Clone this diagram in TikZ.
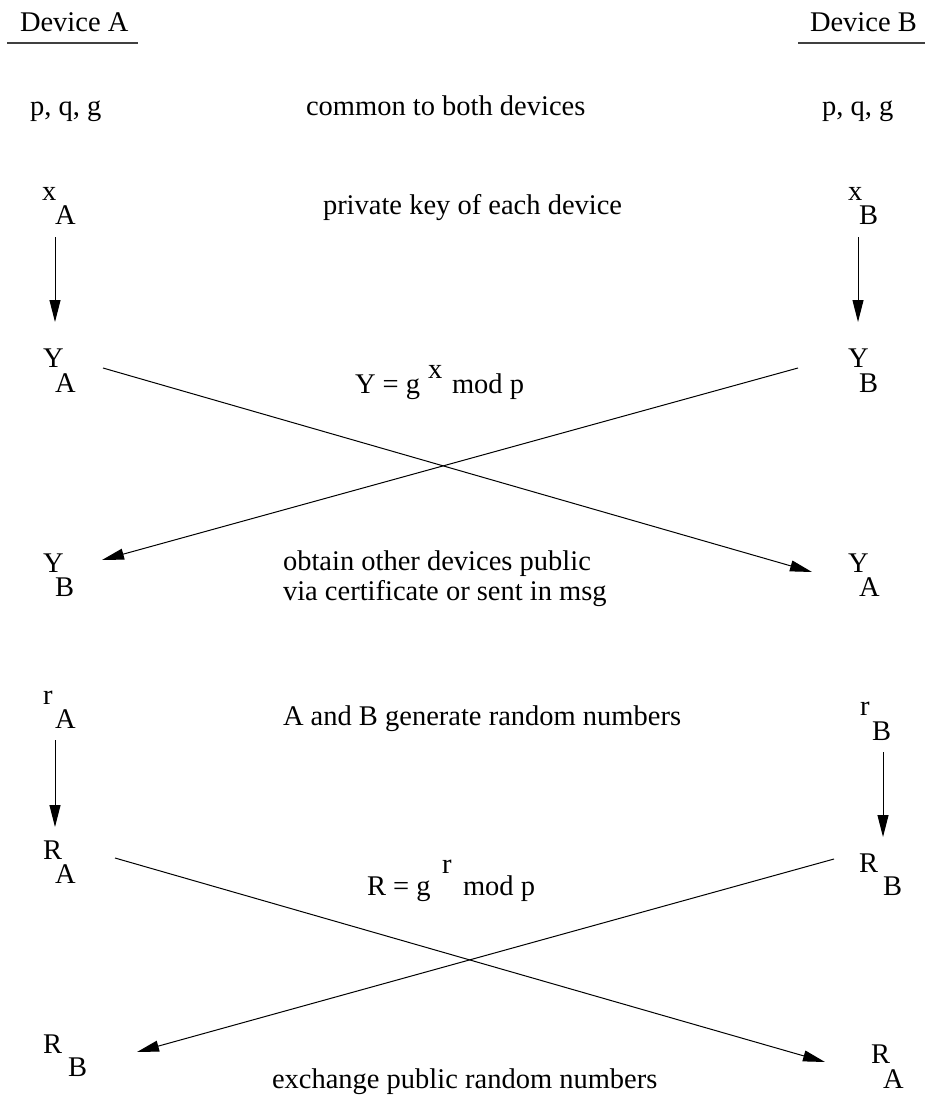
\documentclass[tikz,border=0pt]{standalone}
\usepackage{fontspec}
\setmainfont{Liberation Serif}
\usetikzlibrary{arrows.meta}
\newcommand\subpair[4]{\makebox[0pt][l]{#1}\hspace{#3}\raisebox{-#4}{#2}}
\tikzset{
  txt/.style={inner sep=0pt, outer sep=0pt, anchor=base west, font=\fontsize{28.5}{34}\selectfont},
  conn/.style={line width=1pt, -{Triangle[length=22pt,width=11pt]}},
  rule/.style={line width=1.2pt, draw=black!75}
}
\begin{document}
\begin{tikzpicture}[x=1pt,y=-1pt]
\useasboundingbox (0,0) rectangle (925,1097);
% headers
\node[txt] (devA) at (20,32) {Device A};
\node[txt] (devB) at (810,32) {Device B};
\coordinate (ulA1) at (7,43); \coordinate (ulA2) at (138,43);
\coordinate (ulB1) at (798,43); \coordinate (ulB2) at (925,43);
\draw[rule] (ulA1) -- (ulA2);
\draw[rule] (ulB1) -- (ulB2);
% row 1
\node[txt] (pqgA) at (30,116) {p, q, g};
\node[txt] (pqgB) at (822,116) {p, q, g};
\node[txt] (common) at (306,116) {common to both devices};
% row 2
\node[txt] (xA) at (42,200) {\subpair{x}{A}{13pt}{24pt}};
\node[txt] (xB) at (848,200) {\subpair{x}{B}{11pt}{24pt}};
\node[txt] (priv) at (323,214) {private key of each device};
% row 3
\node[txt] (YA) at (43,367) {\subpair{Y}{A}{12pt}{25pt}};
\node[txt] (YB) at (848,367) {\subpair{Y}{B}{11pt}{25pt}};
\node[txt] (Yeq) at (355,393) {\makebox[0pt][l]{Y = g}\hspace{73pt}\makebox[0pt][l]{\raisebox{15pt}{x}}\hspace{24pt}mod p};
% row 4
\node[txt] (YB2) at (43,572) {\subpair{Y}{B}{12pt}{24pt}};
\node[txt] (YA2) at (848,572) {\subpair{Y}{A}{11pt}{24pt}};
\node[txt] (obtain) at (283,570) {obtain other devices public};
\node[txt] (via) at (283,600) {via certificate or sent in msg};
% row 5
\node[txt] (rA) at (43,704) {\subpair{r}{A}{12pt}{24pt}};
\node[txt] (rB) at (860,715) {\subpair{r}{B}{12pt}{25pt}};
\node[txt] (gen) at (283,725) {A and B generate random numbers};
% row 6
\node[txt] (RA) at (43,859) {\subpair{R}{A}{12pt}{24pt}};
\node[txt] (RB) at (859,872) {\subpair{R}{B}{24pt}{23pt}};
\node[txt] (Req) at (367,895) {\makebox[0pt][l]{R = g}\hspace{75pt}\makebox[0pt][l]{\raisebox{22pt}{r}}\hspace{21pt}mod p};
% row 7
\node[txt] (RB2) at (43,1053) {\subpair{R}{B}{25pt}{23pt}};
\node[txt] (RA2) at (871,1063) {\subpair{R}{A}{12pt}{25pt}};
\node[txt] (exch) at (272,1088) {exchange public random numbers};
% connector ends
\coordinate (a1s) at (55,237); \coordinate (a1e) at (55,322);
\coordinate (b1s) at (858,237); \coordinate (b1e) at (858,322);
\coordinate (a2s) at (55,740); \coordinate (a2e) at (55,827);
\coordinate (b2s) at (883,752); \coordinate (b2e) at (883,837);
\coordinate (c1s) at (103,368); \coordinate (c1e) at (812,572);
\coordinate (c2s) at (798,368); \coordinate (c2e) at (102,560);
\coordinate (d1s) at (115,858); \coordinate (d1e) at (825,1062);
\coordinate (d2s) at (834,859); \coordinate (d2e) at (137,1052);
\draw[conn] (a1s) -- (a1e);
\draw[conn] (b1s) -- (b1e);
\draw[conn] (a2s) -- (a2e);
\draw[conn] (b2s) -- (b2e);
\draw[conn] (c1s) -- (c1e);
\draw[conn] (c2s) -- (c2e);
\draw[conn] (d1s) -- (d1e);
\draw[conn] (d2s) -- (d2e);
\end{tikzpicture}
\end{document}
